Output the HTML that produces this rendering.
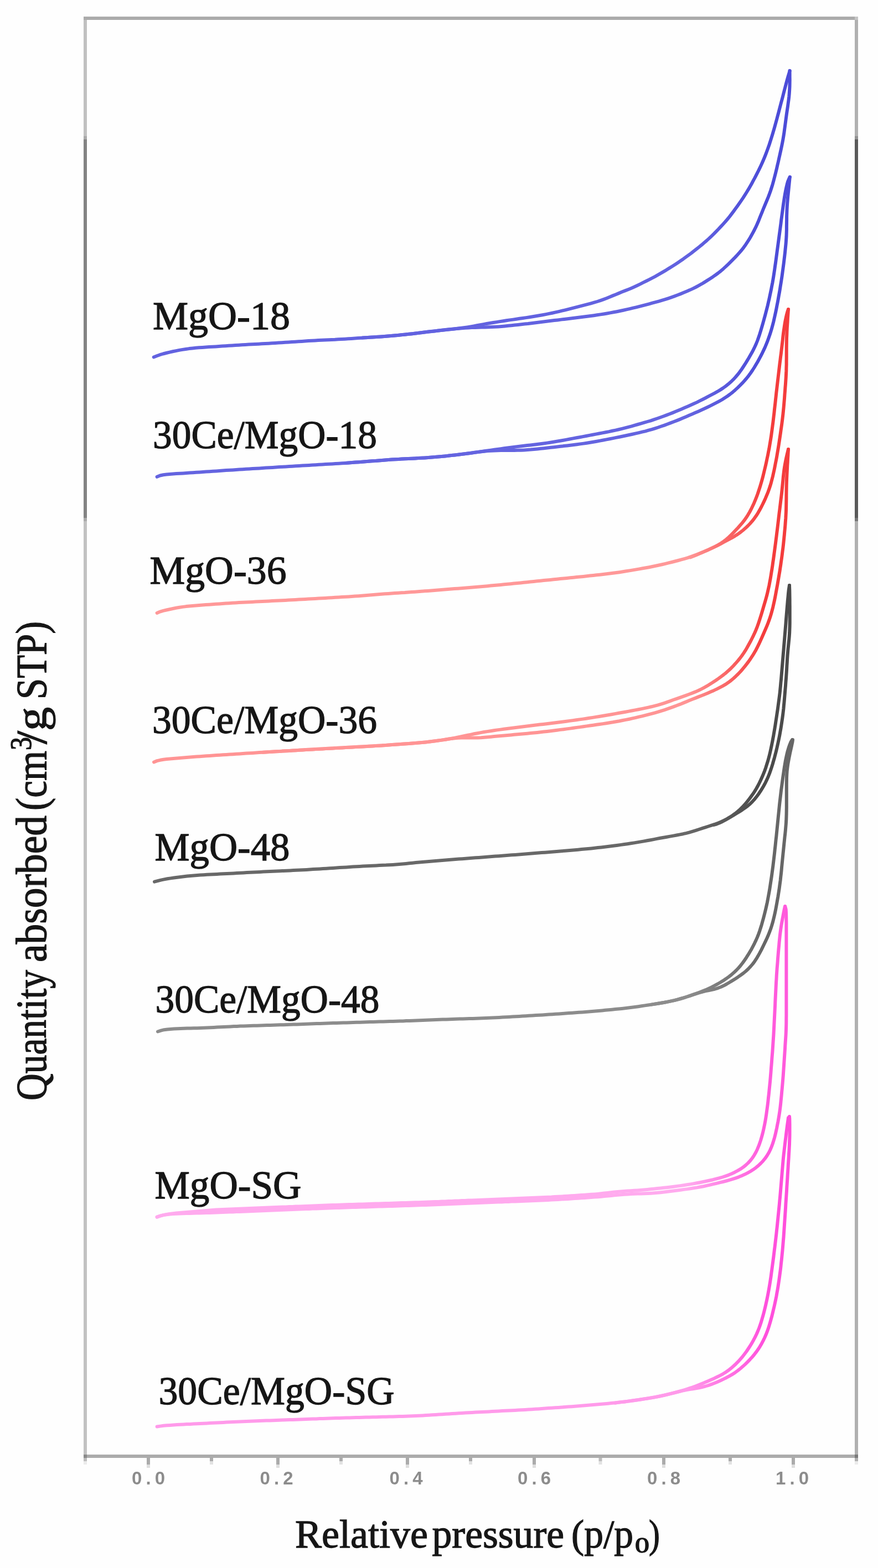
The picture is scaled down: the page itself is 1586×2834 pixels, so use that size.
<!DOCTYPE html>
<html><head><meta charset="utf-8"><title>Isotherms</title>
<style>
html,body{margin:0;padding:0;background:#fff;}
body{width:1586px;height:2834px;overflow:hidden;}
svg{display:block;}
</style></head>
<body>
<svg width="1586" height="2834" viewBox="0 0 1586 2834">
<rect width="1586" height="2834" fill="#fefefe"/>
<g id="frame">
<rect x="151" y="30" width="1393" height="6" fill="#ababab"/>
<rect x="1544" y="30" width="6" height="6" fill="#c4c4c4"/>
<rect x="151" y="36" width="6" height="210" fill="#c1c1c1"/>
<rect x="151" y="246" width="6" height="6" fill="#aaaaaa"/>
<rect x="151" y="252" width="6" height="684" fill="#838383"/>
<rect x="151" y="936" width="6" height="6" fill="#aaaaaa"/>
<rect x="151" y="942" width="6" height="1687" fill="#c2c2c2"/>
<rect x="151" y="2629" width="6" height="6" fill="#8a8a8a"/>
<rect x="151" y="2635" width="6" height="6" fill="#bdbdbd"/>
<rect x="151" y="2641" width="6" height="6" fill="#ebebeb"/>
<rect x="1544" y="36" width="6" height="210" fill="#b0b0b0"/>
<rect x="1544" y="246" width="6" height="6" fill="#929292"/>
<rect x="1544" y="252" width="6" height="684" fill="#5a5a5a"/>
<rect x="1544" y="936" width="6" height="6" fill="#777777"/>
<rect x="1544" y="942" width="6" height="1687" fill="#b0b0b0"/>
<rect x="1544" y="2629" width="6" height="6" fill="#7a7a7a"/>
<rect x="1544" y="2635" width="6" height="6" fill="#b0b0b0"/>
<rect x="1544" y="2641" width="6" height="6" fill="#ebebeb"/>
<rect x="157" y="2629" width="1387" height="6" fill="#ababab"/>
<rect x="265" y="2635" width="6" height="12" fill="#ababab"/>
<rect x="265" y="2647" width="6" height="6" fill="#dedede"/>
<rect x="499" y="2635" width="6" height="12" fill="#ababab"/>
<rect x="499" y="2647" width="6" height="6" fill="#dedede"/>
<rect x="733" y="2635" width="6" height="12" fill="#ababab"/>
<rect x="733" y="2647" width="6" height="6" fill="#dedede"/>
<rect x="962" y="2635" width="6" height="12" fill="#ababab"/>
<rect x="962" y="2647" width="6" height="6" fill="#dedede"/>
<rect x="1196" y="2635" width="6" height="12" fill="#ababab"/>
<rect x="1196" y="2647" width="6" height="6" fill="#dedede"/>
<rect x="1430" y="2635" width="6" height="12" fill="#ababab"/>
<rect x="1430" y="2647" width="6" height="6" fill="#dedede"/>
<rect x="379" y="2635" width="6" height="6" fill="#ababab"/>
<rect x="379" y="2641" width="6" height="6" fill="#e2e2e2"/>
<rect x="613" y="2635" width="6" height="6" fill="#ababab"/>
<rect x="613" y="2641" width="6" height="6" fill="#e2e2e2"/>
<rect x="847" y="2635" width="6" height="6" fill="#ababab"/>
<rect x="847" y="2641" width="6" height="6" fill="#e2e2e2"/>
<rect x="1081.5" y="2635" width="6" height="6" fill="#bdbdbd"/>
<rect x="1081.5" y="2641" width="6" height="6" fill="#e2e2e2"/>
<rect x="1316" y="2635" width="6" height="6" fill="#ababab"/>
<rect x="1316" y="2641" width="6" height="6" fill="#e2e2e2"/>
</g>
<g id="curves">
<linearGradient id="g1" gradientUnits="userSpaceOnUse" x1="1240" y1="0" x2="1380" y2="0"><stop offset="0" stop-color="#6262e0"/><stop offset="1" stop-color="#4c4cd8"/></linearGradient>
<path d="M277.7,645.5 283.3,643.3 288.9,641.2 294.6,639.5 300.4,638.0 306.2,636.6 312.1,635.3 317.9,634.1 323.8,632.9 329.7,631.9 335.6,631.0 341.6,630.1 347.5,629.4 353.5,628.8 359.4,628.3 365.4,627.9 371.4,627.5 377.4,627.1 383.4,626.8 389.4,626.4 395.4,626.0 401.4,625.6 407.3,625.2 413.3,624.8 419.3,624.4 425.3,624.1 431.3,623.7 437.3,623.3 443.3,623.0 449.3,622.6 455.3,622.3 461.2,622.0 467.2,621.7 473.2,621.3 479.2,621.0 485.2,620.7 491.2,620.3 497.2,619.9 503.2,619.6 509.2,619.2 515.1,618.8 521.1,618.5 527.1,618.1 533.1,617.7 539.1,617.3 545.1,616.9 551.1,616.5 557.1,616.1 563.0,615.8 569.0,615.4 575.0,615.1 581.0,614.8 587.0,614.5 593.0,614.2 599.0,613.9 605.0,613.7 611.0,613.3 617.0,613.0 623.0,612.7 629.0,612.3 634.9,611.9 640.9,611.5 646.9,611.1 652.9,610.7 658.9,610.3 664.9,610.0 670.9,609.6 676.9,609.2 682.8,608.8 688.8,608.4 694.8,608.0 700.8,607.5 706.8,607.0 712.7,606.4 718.7,605.9 724.7,605.3 730.7,604.7 736.6,604.1 742.6,603.4 748.5,602.7 754.5,602.0 760.5,601.3 766.4,600.6 772.4,599.8 778.3,599.1 784.3,598.4 790.2,597.7 796.2,597.0 802.2,596.4 808.1,595.7 814.1,595.1 820.1,594.4 826.0,593.8 832.0,593.1 837.9,592.3 843.8,591.4 849.8,590.4 855.7,589.4 861.5,588.3 867.4,587.1 873.3,586.1 879.2,585.0 885.2,584.0 891.1,583.0 897.0,582.1 902.9,581.1 908.9,580.2 914.8,579.3 920.7,578.4 926.7,577.6 932.6,576.7 938.5,575.8 944.5,575.0 950.4,574.1 956.3,573.2 962.3,572.2 968.2,571.2 974.1,570.2 980.0,569.2 985.9,568.1 991.8,566.9 997.6,565.7 1003.5,564.4 1009.4,563.1 1015.2,561.7 1021.0,560.3 1026.8,558.9 1032.7,557.4 1038.5,555.9 1044.3,554.4 1050.1,552.9 1055.9,551.4 1061.7,549.9 1067.5,548.3 1073.3,546.7 1079.0,545.0 1084.7,543.1 1090.3,541.1 1095.9,539.0 1101.4,536.7 1107.0,534.4 1112.5,532.2 1118.1,529.9 1123.6,527.6 1129.2,525.4 1134.8,523.2 1140.3,520.9 1145.8,518.5 1151.2,516.0 1156.6,513.4 1161.9,510.7 1167.3,508.0 1172.6,505.3 1177.9,502.6 1183.2,499.8 1188.4,496.9 1193.6,493.9 1198.8,490.8 1203.9,487.8 1209.0,484.6 1214.1,481.5 1219.2,478.3 1224.2,475.0 1229.2,471.6 1234.1,468.2 1238.9,464.7 1243.8,461.1 1248.6,457.6 1253.3,453.9 1258.1,450.2 1262.7,446.5 1267.4,442.7 1271.9,438.8 1276.5,434.9 1280.9,430.9 1285.2,426.8 1289.5,422.6 1293.7,418.3 1297.9,414.0 1302.0,409.6 1306.1,405.2 1310.1,400.8 1314.0,396.2 1317.8,391.6 1321.4,386.9 1325.0,382.1 1328.5,377.3 1332.0,372.4 1335.5,367.5 1338.9,362.6 1342.3,357.6 1345.5,352.6 1348.7,347.5 1351.8,342.4 1354.8,337.2 1357.8,332.0 1360.6,326.7 1363.5,321.4 1366.2,316.1 1369.0,310.7 1371.6,305.4 1374.2,300.0 1376.7,294.5 1379.1,289.0 1381.4,283.5 1383.6,277.9 1385.7,272.3 1387.7,266.7 1389.7,261.0 1391.5,255.3 1393.3,249.6 1395.1,243.8 1396.8,238.1 1398.5,232.3 1400.1,226.6 1401.7,220.8 1403.3,215.0 1404.8,209.2 1406.4,203.4 1407.9,197.6 1409.4,191.8 1410.9,186.0 1412.5,180.2 1414.0,174.4 1415.5,168.6 1417.0,162.8 1418.5,157.0 1420.0,151.2 1421.6,145.4 1423.2,139.6 1424.9,133.8 1426.7,128.1" fill="none" stroke="url(#g1)" stroke-width="6" stroke-linejoin="round" stroke-linecap="round"/>
<path d="M655.0,610.5 661.0,610.2 667.0,609.8 673.0,609.5 679.0,609.1 684.9,608.7 690.9,608.3 696.9,607.8 702.9,607.3 708.9,606.8 714.8,606.2 720.8,605.7 726.8,605.1 732.8,604.5 738.7,603.8 744.7,603.2 750.6,602.5 756.6,601.8 762.6,601.0 768.5,600.3 774.5,599.6 780.4,598.9 786.4,598.2 792.3,597.5 798.3,596.8 804.3,596.1 810.2,595.5 816.2,594.9 822.2,594.3 828.1,593.7 834.1,593.2 840.1,592.8 846.1,592.4 852.1,592.1 858.1,591.9 864.0,591.8 870.0,591.6 876.0,591.5 882.0,591.3 888.0,591.1 894.0,590.8 900.0,590.4 906.0,589.9 911.9,589.4 917.9,588.8 923.9,588.2 929.9,587.6 935.8,586.9 941.8,586.3 947.7,585.6 953.7,585.0 959.7,584.2 965.6,583.5 971.6,582.8 977.5,582.0 983.5,581.3 989.4,580.6 995.4,579.8 1001.3,579.1 1007.3,578.4 1013.3,577.6 1019.2,576.9 1025.2,576.2 1031.1,575.5 1037.1,574.8 1043.0,574.1 1049.0,573.3 1054.9,572.6 1060.9,571.8 1066.8,571.0 1072.8,570.2 1078.7,569.3 1084.7,568.4 1090.6,567.5 1096.5,566.5 1102.4,565.4 1108.3,564.3 1114.2,563.2 1120.0,562.0 1125.9,560.7 1131.8,559.4 1137.6,558.1 1143.5,556.7 1149.3,555.3 1155.1,553.8 1160.9,552.3 1166.7,550.8 1172.5,549.3 1178.3,547.7 1184.1,546.2 1189.9,544.6 1195.6,542.9 1201.4,541.2 1207.1,539.3 1212.8,537.4 1218.4,535.4 1224.0,533.3 1229.6,531.1 1235.1,528.8 1240.7,526.5 1246.2,524.1 1251.6,521.6 1256.9,519.0 1262.2,516.1 1267.4,513.2 1272.5,510.1 1277.6,506.9 1282.6,503.7 1287.6,500.4 1292.5,497.0 1297.3,493.5 1302.0,489.8 1306.5,485.9 1310.9,481.9 1315.2,477.8 1319.5,473.6 1323.7,469.4 1327.9,465.1 1332.0,460.7 1336.0,456.3 1339.9,451.8 1343.5,447.1 1347.0,442.2 1350.3,437.2 1353.5,432.2 1356.5,427.0 1359.4,421.8 1362.2,416.5 1364.9,411.2 1367.4,405.8 1369.8,400.3 1372.0,394.7 1374.2,389.2 1376.5,383.6 1378.7,378.0 1381.0,372.5 1383.3,367.0 1385.6,361.5 1387.9,355.9 1390.0,350.3 1392.0,344.7 1393.8,339.0 1395.6,333.3 1397.2,327.5 1398.7,321.7 1400.2,315.9 1401.7,310.1 1403.1,304.2 1404.4,298.4 1405.8,292.6 1407.1,286.7 1408.4,280.8 1409.7,275.0 1411.0,269.1 1412.2,263.3 1413.4,257.4 1414.5,251.5 1415.5,245.6 1416.4,239.7 1417.2,233.7 1418.0,227.8 1418.8,221.8 1419.6,215.9 1420.4,209.9 1421.2,204.0 1422.1,198.1 1423.0,192.1 1423.8,186.2 1424.6,180.3 1425.3,174.3 1425.8,168.4 1426.2,162.4 1426.5,156.5 1426.6,150.5 1426.7,144.6 1426.6,138.7 1426.6,132.9 1426.5,127.7" fill="none" stroke="url(#g1)" stroke-width="6" stroke-linejoin="round" stroke-linecap="round"/>
<linearGradient id="g2" gradientUnits="userSpaceOnUse" x1="1240" y1="0" x2="1380" y2="0"><stop offset="0" stop-color="#6464e0"/><stop offset="1" stop-color="#4c4cd8"/></linearGradient>
<path d="M283.6,861.8 289.1,859.5 294.9,858.2 300.8,857.5 306.7,856.9 312.7,856.5 318.6,856.1 324.6,855.7 330.6,855.4 336.6,855.0 342.6,854.6 348.6,854.2 354.5,853.8 360.5,853.4 366.5,853.0 372.5,852.6 378.5,852.2 384.5,851.8 390.5,851.4 396.4,851.0 402.4,850.5 408.4,850.1 414.4,849.7 420.4,849.4 426.4,849.0 432.4,848.6 438.4,848.2 444.3,847.8 450.3,847.5 456.3,847.1 462.3,846.7 468.3,846.4 474.3,846.0 480.3,845.6 486.3,845.2 492.2,844.9 498.2,844.5 504.2,844.1 510.2,843.8 516.2,843.4 522.2,843.0 528.2,842.7 534.2,842.3 540.2,842.0 546.2,841.6 552.1,841.3 558.1,840.9 564.1,840.5 570.1,840.2 576.1,839.8 582.1,839.5 588.1,839.1 594.1,838.8 600.1,838.4 606.0,838.1 612.0,837.7 618.0,837.3 624.0,836.9 630.0,836.5 636.0,836.0 642.0,835.6 647.9,835.2 653.9,834.7 659.9,834.2 665.9,833.8 671.9,833.3 677.9,832.9 683.8,832.4 689.8,831.9 695.8,831.5 701.8,831.1 707.8,830.6 713.8,830.3 719.7,829.9 725.7,829.6 731.7,829.3 737.7,829.0 743.7,828.7 749.7,828.4 755.7,828.1 761.7,827.7 767.7,827.4 773.7,827.0 779.6,826.6 785.6,826.1 791.6,825.6 797.6,825.0 803.5,824.4 809.5,823.8 815.5,823.1 821.4,822.4 827.4,821.7 833.3,821.0 839.3,820.3 845.2,819.5 851.2,818.7 857.1,817.8 863.1,817.0 869.0,816.2 875.0,815.3 880.9,814.5 886.8,813.6 892.8,812.7 898.7,811.9 904.7,811.1 910.6,810.2 916.5,809.4 922.5,808.6 928.4,807.9 934.4,807.1 940.3,806.4 946.3,805.7 952.3,805.1 958.2,804.4 964.2,803.7 970.2,803.0 976.1,802.3 982.0,801.5 988.0,800.6 993.9,799.7 999.8,798.8 1005.7,797.8 1011.7,796.7 1017.6,795.7 1023.5,794.6 1029.4,793.5 1035.3,792.4 1041.2,791.3 1047.1,790.2 1053.0,789.1 1058.9,788.0 1064.7,786.9 1070.6,785.8 1076.5,784.6 1082.4,783.5 1088.3,782.4 1094.2,781.2 1100.1,780.1 1106.0,778.8 1111.8,777.6 1117.7,776.3 1123.5,774.9 1129.3,773.4 1135.1,771.8 1140.9,770.3 1146.7,768.6 1152.4,767.0 1158.2,765.4 1164.0,763.7 1169.7,762.0 1175.5,760.3 1181.2,758.4 1186.8,756.5 1192.5,754.5 1198.1,752.5 1203.8,750.4 1209.4,748.3 1214.9,746.1 1220.5,743.8 1226.0,741.5 1231.5,739.2 1237.0,736.8 1242.5,734.5 1248.0,732.1 1253.5,729.6 1258.9,727.1 1264.2,724.4 1269.6,721.7 1274.9,719.0 1280.2,716.2 1285.5,713.4 1290.8,710.6 1296.0,707.7 1301.1,704.6 1306.1,701.4 1311.0,697.9 1315.6,694.2 1320.1,690.3 1324.4,686.2 1328.5,681.8 1332.3,677.3 1336.0,672.6 1339.5,667.7 1342.8,662.8 1346.1,657.7 1349.2,652.6 1352.3,647.5 1355.3,642.3 1358.3,637.1 1361.0,631.8 1363.6,626.5 1366.1,621.0 1368.3,615.5 1370.3,609.8 1372.2,604.2 1374.0,598.4 1375.7,592.7 1377.4,586.9 1379.0,581.2 1380.6,575.4 1382.2,569.6 1383.7,563.8 1385.2,558.0 1386.7,552.2 1388.0,546.3 1389.4,540.5 1390.6,534.6 1391.9,528.7 1393.1,522.9 1394.2,517.0 1395.4,511.1 1396.4,505.2 1397.4,499.3 1398.3,493.3 1399.2,487.4 1400.0,481.5 1400.9,475.5 1401.7,469.6 1402.5,463.6 1403.3,457.7 1404.1,451.7 1404.9,445.8 1405.7,439.9 1406.5,433.9 1407.3,428.0 1408.1,422.0 1408.9,416.1 1409.7,410.1 1410.5,404.2 1411.2,398.2 1412.0,392.3 1412.8,386.3 1413.6,380.4 1414.4,374.4 1415.2,368.5 1416.1,362.6 1417.0,356.6 1418.0,350.8 1419.1,344.9 1420.3,339.2 1421.6,333.6 1423.1,328.1 1425.2,323.2 1426.8,320.0" fill="none" stroke="url(#g2)" stroke-width="6" stroke-linejoin="round" stroke-linecap="round"/>
<path d="M624.0,837.0 630.0,836.5 636.0,836.1 641.9,835.6 647.9,835.2 653.9,834.7 659.9,834.2 665.9,833.8 671.9,833.3 677.8,832.9 683.8,832.4 689.8,831.9 695.8,831.5 701.8,831.1 707.8,830.6 713.7,830.3 719.7,829.9 725.7,829.6 731.7,829.3 737.7,829.0 743.7,828.7 749.7,828.4 755.7,828.1 761.7,827.7 767.7,827.4 773.7,827.0 779.6,826.6 785.6,826.1 791.6,825.6 797.6,825.0 803.5,824.4 809.5,823.8 815.5,823.1 821.4,822.4 827.4,821.7 833.3,821.0 839.3,820.3 845.2,819.5 851.2,818.7 857.1,817.9 863.1,817.1 869.0,816.3 875.0,815.7 880.9,815.1 886.9,814.7 892.9,814.4 898.9,814.2 904.9,814.1 910.8,814.0 916.8,814.0 922.8,814.0 928.8,813.9 934.8,813.8 940.8,813.7 946.8,813.4 952.8,813.0 958.8,812.6 964.7,812.0 970.7,811.4 976.7,810.8 982.6,810.2 988.6,809.5 994.6,808.8 1000.5,808.2 1006.5,807.5 1012.4,806.8 1018.4,806.1 1024.4,805.4 1030.3,804.7 1036.3,804.0 1042.2,803.2 1048.2,802.4 1054.1,801.6 1060.0,800.7 1066.0,799.7 1071.9,798.7 1077.8,797.7 1083.7,796.6 1089.6,795.5 1095.5,794.4 1101.4,793.2 1107.3,792.1 1113.1,790.9 1119.0,789.7 1124.9,788.5 1130.8,787.3 1136.6,786.0 1142.5,784.7 1148.4,783.4 1154.2,782.1 1160.0,780.7 1165.9,779.3 1171.6,777.7 1177.4,776.1 1183.1,774.3 1188.8,772.5 1194.5,770.5 1200.2,768.6 1205.8,766.5 1211.4,764.4 1217.0,762.3 1222.6,760.1 1228.2,757.9 1233.7,755.6 1239.2,753.2 1244.7,750.8 1250.2,748.5 1255.7,746.1 1261.2,743.7 1266.6,741.3 1272.0,738.8 1277.4,736.2 1282.8,733.6 1288.2,730.9 1293.5,728.2 1298.8,725.4 1304.0,722.5 1309.0,719.3 1314.0,716.0 1318.8,712.5 1323.5,708.8 1328.0,704.9 1332.4,700.9 1336.7,696.7 1340.9,692.4 1344.9,688.0 1348.8,683.5 1352.5,678.8 1356.0,674.0 1359.4,669.0 1362.6,664.0 1365.7,658.8 1368.7,653.7 1371.6,648.4 1374.4,643.1 1377.1,637.8 1379.7,632.4 1382.2,626.9 1384.5,621.4 1386.7,615.8 1388.7,610.2 1390.7,604.6 1392.5,598.8 1394.2,593.1 1395.8,587.3 1397.3,581.5 1398.6,575.7 1399.9,569.8 1401.2,564.0 1402.4,558.1 1403.5,552.2 1404.7,546.3 1405.8,540.4 1406.8,534.5 1407.9,528.6 1408.9,522.7 1409.8,516.8 1410.8,510.8 1411.7,504.9 1412.6,499.0 1413.4,493.0 1414.2,487.1 1415.0,481.1 1415.8,475.2 1416.5,469.2 1417.2,463.3 1417.9,457.3 1418.5,451.4 1419.1,445.4 1419.7,439.4 1420.1,433.5 1420.5,427.5 1420.7,421.5 1420.9,415.5 1420.9,409.5 1421.0,403.5 1421.1,397.5 1421.1,391.5 1421.3,385.5 1421.5,379.5 1421.8,373.5 1422.2,367.6 1422.7,361.6 1423.2,355.6 1423.8,349.6 1424.4,343.7 1425.0,337.7 1425.6,331.8 1426.2,325.8 1426.8,320.0" fill="none" stroke="url(#g2)" stroke-width="6" stroke-linejoin="round" stroke-linecap="round"/>
<linearGradient id="g3" gradientUnits="userSpaceOnUse" x1="1240" y1="0" x2="1380" y2="0"><stop offset="0" stop-color="#ff9898"/><stop offset="1" stop-color="#f43c3c"/></linearGradient>
<path d="M283.6,1107.9 289.1,1105.6 294.8,1103.9 300.7,1102.5 306.5,1101.2 312.3,1100.0 318.2,1098.8 324.1,1097.8 330.0,1096.9 336.0,1096.1 341.9,1095.5 347.9,1094.9 353.9,1094.4 359.9,1093.9 365.8,1093.5 371.8,1093.1 377.8,1092.7 383.8,1092.2 389.8,1091.8 395.8,1091.4 401.7,1091.0 407.7,1090.6 413.7,1090.2 419.7,1089.8 425.7,1089.5 431.7,1089.1 437.7,1088.8 443.7,1088.5 449.7,1088.2 455.7,1087.9 461.6,1087.6 467.6,1087.3 473.6,1087.0 479.6,1086.7 485.6,1086.4 491.6,1086.1 497.6,1085.8 503.6,1085.5 509.6,1085.2 515.6,1084.9 521.6,1084.6 527.6,1084.2 533.6,1083.9 539.5,1083.6 545.5,1083.3 551.5,1082.9 557.5,1082.6 563.5,1082.3 569.5,1081.9 575.5,1081.6 581.5,1081.2 587.5,1080.9 593.5,1080.5 599.4,1080.2 605.4,1079.8 611.4,1079.5 617.4,1079.1 623.4,1078.8 629.4,1078.4 635.4,1078.0 641.4,1077.6 647.4,1077.2 653.3,1076.7 659.3,1076.2 665.3,1075.7 671.3,1075.3 677.3,1074.8 683.2,1074.3 689.2,1073.8 695.2,1073.3 701.2,1072.9 707.2,1072.5 713.1,1072.1 719.1,1071.7 725.1,1071.3 731.1,1071.0 737.1,1070.5 743.1,1070.1 749.1,1069.7 755.0,1069.2 761.0,1068.8 767.0,1068.3 773.0,1067.9 779.0,1067.4 785.0,1067.0 790.9,1066.5 796.9,1066.0 802.9,1065.6 808.9,1065.1 814.9,1064.6 820.9,1064.1 826.8,1063.7 832.8,1063.2 838.8,1062.7 844.8,1062.2 850.8,1061.7 856.7,1061.2 862.7,1060.7 868.7,1060.2 874.7,1059.7 880.6,1059.2 886.6,1058.6 892.6,1058.1 898.6,1057.5 904.5,1056.9 910.5,1056.3 916.5,1055.7 922.5,1055.2 928.4,1054.6 934.4,1054.0 940.4,1053.4 946.3,1052.8 952.3,1052.2 958.3,1051.6 964.2,1051.0 970.2,1050.3 976.2,1049.7 982.1,1049.1 988.1,1048.5 994.1,1047.9 1000.1,1047.3 1006.0,1046.7 1012.0,1046.1 1018.0,1045.5 1023.9,1044.9 1029.9,1044.3 1035.9,1043.7 1041.8,1043.1 1047.8,1042.5 1053.8,1041.9 1059.7,1041.3 1065.7,1040.6 1071.7,1040.0 1077.6,1039.3 1083.6,1038.7 1089.6,1038.0 1095.5,1037.3 1101.5,1036.6 1107.4,1035.8 1113.4,1035.0 1119.3,1034.2 1125.2,1033.3 1131.2,1032.3 1137.1,1031.4 1143.0,1030.4 1148.9,1029.4 1154.8,1028.4 1160.8,1027.3 1166.7,1026.3 1172.5,1025.2 1178.4,1024.0 1184.3,1022.8 1190.2,1021.5 1196.0,1020.2 1201.9,1018.8 1207.7,1017.4 1213.5,1016.0 1219.3,1014.5 1225.1,1013.0 1230.9,1011.4 1236.7,1009.8 1242.4,1008.1 1248.1,1006.2 1253.7,1004.2 1259.3,1002.1 1264.9,999.9 1270.4,997.6 1275.9,995.2 1281.4,992.8 1286.8,990.3 1292.2,987.6 1297.4,984.8 1302.5,981.7 1307.3,978.4 1312.0,974.8 1316.4,970.9 1320.6,966.8 1324.8,962.6 1328.9,958.3 1333.0,954.0 1336.9,949.6 1340.8,945.1 1344.5,940.4 1347.9,935.6 1351.1,930.6 1354.1,925.5 1356.9,920.2 1359.5,914.8 1362.0,909.4 1364.3,903.9 1366.5,898.3 1368.6,892.7 1370.5,887.0 1372.4,881.3 1374.1,875.6 1375.8,869.8 1377.4,864.1 1378.9,858.3 1380.3,852.4 1381.7,846.6 1383.1,840.8 1384.4,834.9 1385.6,829.0 1386.9,823.2 1388.0,817.3 1389.2,811.4 1390.2,805.5 1391.2,799.6 1392.2,793.6 1393.1,787.7 1393.9,781.8 1394.7,775.8 1395.5,769.9 1396.3,763.9 1397.0,758.0 1397.7,752.0 1398.4,746.1 1399.0,740.1 1399.7,734.1 1400.4,728.2 1401.0,722.2 1401.7,716.2 1402.3,710.3 1403.0,704.3 1403.7,698.4 1404.4,692.4 1405.1,686.4 1405.8,680.5 1406.5,674.5 1407.2,668.6 1407.9,662.6 1408.6,656.7 1409.4,650.7 1410.1,644.7 1410.9,638.8 1411.6,632.8 1412.3,626.9 1413.0,620.9 1413.7,615.0 1414.3,609.0 1415.0,603.1 1415.8,597.1 1416.7,591.2 1417.6,585.3 1418.6,579.5 1419.8,573.8 1421.1,568.2 1422.6,562.8 1424.0,559.0" fill="none" stroke="url(#g3)" stroke-width="6" stroke-linejoin="round" stroke-linecap="round"/>
<path d="M1247.0,1007.5 1252.6,1005.3 1258.1,1002.9 1263.6,1000.5 1269.1,998.2 1274.6,995.8 1280.1,993.4 1285.5,990.9 1290.9,988.4 1296.3,985.7 1301.6,983.0 1306.8,980.2 1312.0,977.4 1317.2,974.6 1322.4,971.8 1327.5,968.8 1332.5,965.6 1337.3,962.2 1342.0,958.5 1346.5,954.6 1350.8,950.5 1354.9,946.2 1358.8,941.8 1362.5,937.1 1365.9,932.3 1369.1,927.3 1372.1,922.1 1374.9,916.8 1377.6,911.5 1380.2,906.1 1382.7,900.7 1385.0,895.2 1387.3,889.6 1389.3,884.0 1391.2,878.3 1392.9,872.6 1394.4,866.8 1395.9,861.0 1397.2,855.2 1398.5,849.3 1399.7,843.4 1400.8,837.5 1402.0,831.7 1403.1,825.8 1404.1,819.8 1405.1,813.9 1406.1,808.0 1407.0,802.1 1407.9,796.2 1408.8,790.2 1409.7,784.3 1410.5,778.4 1411.4,772.4 1412.2,766.5 1413.0,760.5 1413.7,754.6 1414.4,748.6 1415.0,742.6 1415.6,736.7 1416.1,730.7 1416.6,724.7 1417.1,718.7 1417.5,712.8 1418.0,706.8 1418.4,700.8 1418.9,694.8 1419.3,688.8 1419.7,682.8 1420.0,676.8 1420.3,670.9 1420.4,664.9 1420.6,658.9 1420.6,652.9 1420.7,646.9 1420.7,640.9 1420.7,634.9 1420.7,628.9 1420.8,622.9 1420.9,616.9 1421.0,610.9 1421.3,604.9 1421.5,598.9 1421.8,592.9 1422.2,587.0 1422.6,581.0 1422.9,575.1 1423.3,569.3 1423.7,563.6 1424.0,559.0" fill="none" stroke="url(#g3)" stroke-width="6" stroke-linejoin="round" stroke-linecap="round"/>
<linearGradient id="g4" gradientUnits="userSpaceOnUse" x1="1240" y1="0" x2="1380" y2="0"><stop offset="0" stop-color="#ff9494"/><stop offset="1" stop-color="#f43c3c"/></linearGradient>
<path d="M278.0,1377.4 283.6,1375.1 289.3,1373.8 295.2,1372.8 301.1,1372.1 307.0,1371.4 313.0,1370.9 319.0,1370.4 324.9,1369.9 330.9,1369.4 336.9,1369.0 342.9,1368.5 348.9,1368.1 354.9,1367.6 360.8,1367.2 366.8,1366.8 372.8,1366.3 378.8,1365.9 384.8,1365.5 390.8,1365.1 396.8,1364.7 402.7,1364.3 408.7,1363.9 414.7,1363.6 420.7,1363.2 426.7,1362.8 432.7,1362.4 438.7,1362.0 444.7,1361.6 450.6,1361.3 456.6,1360.9 462.6,1360.5 468.6,1360.1 474.6,1359.8 480.6,1359.4 486.6,1359.0 492.6,1358.7 498.6,1358.3 504.5,1358.0 510.5,1357.6 516.5,1357.2 522.5,1356.9 528.5,1356.5 534.5,1356.2 540.5,1355.8 546.5,1355.5 552.5,1355.1 558.4,1354.8 564.4,1354.4 570.4,1354.1 576.4,1353.7 582.4,1353.4 588.4,1353.1 594.4,1352.7 600.4,1352.4 606.4,1352.1 612.4,1351.8 618.4,1351.4 624.3,1351.1 630.3,1350.8 636.3,1350.5 642.3,1350.1 648.3,1349.8 654.3,1349.5 660.3,1349.2 666.3,1348.8 672.3,1348.5 678.3,1348.1 684.3,1347.7 690.2,1347.4 696.2,1346.9 702.2,1346.5 708.2,1346.1 714.2,1345.7 720.2,1345.2 726.1,1344.8 732.1,1344.4 738.1,1343.9 744.1,1343.5 750.1,1343.0 756.1,1342.6 762.0,1342.1 768.0,1341.5 774.0,1340.8 779.9,1340.1 785.9,1339.3 791.8,1338.5 797.7,1337.6 803.7,1336.7 809.6,1335.7 815.5,1334.7 821.4,1333.6 827.3,1332.4 833.2,1331.2 839.0,1330.0 844.9,1328.8 850.8,1327.6 856.6,1326.3 862.5,1325.2 868.4,1324.1 874.3,1323.0 880.2,1322.1 886.2,1321.2 892.1,1320.3 898.0,1319.4 904.0,1318.6 909.9,1317.8 915.9,1317.0 921.8,1316.2 927.8,1315.5 933.7,1314.7 939.7,1314.0 945.6,1313.2 951.6,1312.5 957.5,1311.7 963.5,1311.0 969.5,1310.3 975.4,1309.6 981.4,1308.9 987.3,1308.2 993.3,1307.5 999.2,1306.7 1005.2,1306.0 1011.1,1305.2 1017.1,1304.5 1023.0,1303.7 1029.0,1302.9 1034.9,1302.1 1040.9,1301.2 1046.8,1300.4 1052.8,1299.6 1058.7,1298.7 1064.6,1297.8 1070.6,1296.9 1076.5,1295.9 1082.4,1295.0 1088.3,1294.0 1094.2,1293.0 1100.2,1292.0 1106.1,1291.0 1112.0,1289.9 1117.9,1288.8 1123.8,1287.7 1129.7,1286.7 1135.6,1285.6 1141.5,1284.5 1147.4,1283.4 1153.3,1282.3 1159.2,1281.1 1165.0,1279.9 1170.9,1278.6 1176.7,1277.3 1182.5,1275.8 1188.3,1274.3 1194.1,1272.6 1199.8,1270.8 1205.4,1268.9 1211.1,1266.9 1216.7,1264.8 1222.4,1262.8 1228.0,1260.8 1233.7,1258.8 1239.3,1256.8 1245.0,1254.7 1250.6,1252.6 1256.1,1250.4 1261.6,1248.0 1267.0,1245.4 1272.2,1242.6 1277.4,1239.7 1282.5,1236.5 1287.6,1233.3 1292.6,1230.0 1297.5,1226.6 1302.3,1223.1 1307.1,1219.5 1311.7,1215.8 1316.2,1211.8 1320.6,1207.7 1324.7,1203.5 1328.7,1199.1 1332.6,1194.6 1336.4,1190.0 1340.0,1185.3 1343.4,1180.4 1346.6,1175.4 1349.6,1170.3 1352.5,1165.0 1355.4,1159.8 1358.1,1154.5 1360.8,1149.1 1363.3,1143.7 1365.7,1138.2 1367.9,1132.6 1369.9,1127.0 1371.8,1121.3 1373.6,1115.6 1375.4,1109.9 1377.1,1104.2 1378.8,1098.4 1380.5,1092.7 1382.2,1086.9 1383.8,1081.2 1385.4,1075.4 1386.8,1069.5 1388.1,1063.7 1389.4,1057.8 1390.5,1051.9 1391.6,1046.0 1392.6,1040.1 1393.5,1034.2 1394.5,1028.3 1395.4,1022.4 1396.2,1016.4 1397.1,1010.5 1397.9,1004.5 1398.7,998.6 1399.5,992.6 1400.3,986.7 1401.1,980.7 1401.8,974.8 1402.6,968.8 1403.3,962.9 1404.1,956.9 1404.8,951.0 1405.5,945.0 1406.2,939.1 1406.9,933.1 1407.6,927.1 1408.4,921.2 1409.1,915.2 1409.8,909.3 1410.5,903.3 1411.3,897.4 1412.0,891.4 1412.6,885.5 1413.2,879.5 1413.8,873.5 1414.4,867.5 1414.9,861.6 1415.6,855.6 1416.3,849.7 1417.2,843.8 1418.2,838.0 1419.3,832.2 1420.5,826.5 1421.8,820.9 1423.1,815.6 1424.0,812.0" fill="none" stroke="url(#g4)" stroke-width="6" stroke-linejoin="round" stroke-linecap="round"/>
<path d="M475.0,1359.7 481.0,1359.3 487.0,1359.0 493.0,1358.6 499.0,1358.3 504.9,1357.9 510.9,1357.6 516.9,1357.2 522.9,1356.9 528.9,1356.5 534.9,1356.2 540.9,1355.8 546.9,1355.5 552.9,1355.1 558.9,1354.8 564.8,1354.4 570.8,1354.1 576.8,1353.7 582.8,1353.4 588.8,1353.0 594.8,1352.7 600.8,1352.4 606.8,1352.1 612.8,1351.7 618.8,1351.4 624.8,1351.1 630.7,1350.8 636.7,1350.4 642.7,1350.1 648.7,1349.8 654.7,1349.5 660.7,1349.1 666.7,1348.8 672.7,1348.5 678.7,1348.1 684.7,1347.7 690.6,1347.3 696.6,1346.9 702.6,1346.5 708.6,1346.1 714.6,1345.6 720.6,1345.2 726.6,1344.8 732.5,1344.3 738.5,1343.9 744.5,1343.5 750.5,1343.0 756.5,1342.5 762.4,1342.0 768.4,1341.4 774.4,1340.8 780.3,1340.1 786.3,1339.3 792.2,1338.4 798.1,1337.6 804.1,1336.7 810.0,1335.8 815.9,1334.9 821.8,1334.2 827.6,1333.7 833.5,1333.4 839.3,1333.4 845.2,1333.5 851.0,1333.6 856.9,1333.6 862.8,1333.5 868.8,1333.2 874.7,1332.7 880.7,1332.2 886.7,1331.7 892.7,1331.1 898.6,1330.6 904.6,1330.0 910.6,1329.5 916.6,1328.9 922.5,1328.4 928.5,1327.8 934.5,1327.3 940.5,1326.7 946.4,1326.2 952.4,1325.7 958.4,1325.1 964.4,1324.5 970.3,1323.9 976.3,1323.3 982.3,1322.6 988.2,1321.9 994.2,1321.2 1000.1,1320.5 1006.1,1319.7 1012.0,1318.9 1018.0,1318.2 1023.9,1317.4 1029.9,1316.6 1035.8,1315.7 1041.7,1314.9 1047.7,1314.1 1053.6,1313.2 1059.6,1312.4 1065.5,1311.5 1071.4,1310.7 1077.4,1309.8 1083.3,1309.0 1089.3,1308.1 1095.2,1307.2 1101.1,1306.2 1107.0,1305.3 1112.9,1304.2 1118.8,1303.2 1124.7,1302.0 1130.6,1300.9 1136.5,1299.7 1142.4,1298.4 1148.2,1297.1 1154.1,1295.7 1159.9,1294.3 1165.7,1292.9 1171.5,1291.4 1177.3,1289.9 1183.1,1288.3 1188.9,1286.7 1194.6,1284.9 1200.3,1283.1 1206.0,1281.2 1211.7,1279.2 1217.3,1277.1 1222.9,1275.0 1228.5,1272.9 1234.1,1270.6 1239.6,1268.4 1245.1,1266.1 1250.7,1263.8 1256.3,1261.6 1261.8,1259.4 1267.4,1257.2 1273.0,1255.0 1278.5,1252.7 1284.0,1250.3 1289.5,1247.9 1294.9,1245.4 1300.2,1242.7 1305.5,1239.9 1310.6,1236.9 1315.5,1233.6 1320.3,1230.0 1324.8,1226.2 1329.2,1222.2 1333.5,1218.0 1337.6,1213.7 1341.5,1209.2 1345.3,1204.6 1349.0,1199.9 1352.6,1195.1 1356.0,1190.2 1359.3,1185.2 1362.4,1180.1 1365.4,1174.9 1368.1,1169.6 1370.8,1164.2 1373.3,1158.8 1375.8,1153.3 1378.2,1147.8 1380.6,1142.3 1383.0,1136.8 1385.3,1131.3 1387.5,1125.8 1389.6,1120.1 1391.5,1114.5 1393.2,1108.8 1394.8,1103.0 1396.3,1097.2 1397.6,1091.4 1398.9,1085.5 1400.1,1079.6 1401.2,1073.7 1402.3,1067.8 1403.4,1061.9 1404.5,1056.0 1405.5,1050.1 1406.5,1044.2 1407.5,1038.3 1408.5,1032.4 1409.4,1026.4 1410.3,1020.5 1411.1,1014.6 1412.0,1008.6 1412.8,1002.7 1413.5,996.7 1414.3,990.8 1415.0,984.8 1415.6,978.9 1416.2,972.9 1416.8,966.9 1417.3,960.9 1417.9,955.0 1418.4,949.0 1418.8,943.0 1419.3,937.0 1419.6,931.0 1419.9,925.1 1420.1,919.1 1420.2,913.1 1420.3,907.1 1420.4,901.1 1420.4,895.1 1420.5,889.1 1420.6,883.1 1420.7,877.1 1420.9,871.1 1421.1,865.1 1421.4,859.1 1421.7,853.1 1422.0,847.1 1422.3,841.1 1422.7,835.2 1423.0,829.2 1423.4,823.3 1423.7,817.4 1424.0,812.0" fill="none" stroke="url(#g4)" stroke-width="6" stroke-linejoin="round" stroke-linecap="round"/>
<linearGradient id="g5" gradientUnits="userSpaceOnUse" x1="1240" y1="0" x2="1380" y2="0"><stop offset="0" stop-color="#686868"/><stop offset="1" stop-color="#4a4a4a"/></linearGradient>
<path d="M279.0,1593.7 284.8,1592.1 290.6,1590.6 296.5,1589.4 302.3,1588.3 308.2,1587.4 314.2,1586.5 320.1,1585.7 326.1,1585.0 332.0,1584.3 338.0,1583.6 344.0,1583.0 349.9,1582.5 355.9,1582.0 361.9,1581.5 367.9,1581.2 373.9,1580.8 379.8,1580.5 385.8,1580.2 391.8,1579.9 397.8,1579.6 403.8,1579.3 409.8,1579.0 415.8,1578.7 421.8,1578.4 427.8,1578.1 433.8,1577.8 439.8,1577.5 445.8,1577.1 451.8,1576.8 457.7,1576.5 463.7,1576.2 469.7,1575.9 475.7,1575.6 481.7,1575.3 487.7,1575.0 493.7,1574.8 499.7,1574.5 505.7,1574.2 511.7,1574.0 517.7,1573.7 523.7,1573.4 529.7,1573.1 535.7,1572.8 541.6,1572.5 547.6,1572.2 553.6,1571.9 559.6,1571.5 565.6,1571.1 571.6,1570.8 577.6,1570.4 583.6,1570.0 589.6,1569.7 595.5,1569.3 601.5,1568.9 607.5,1568.5 613.5,1568.1 619.5,1567.7 625.5,1567.4 631.5,1567.0 637.5,1566.6 643.5,1566.3 649.4,1566.0 655.4,1565.6 661.4,1565.3 667.4,1565.0 673.4,1564.7 679.4,1564.4 685.4,1564.1 691.4,1563.8 697.4,1563.6 703.4,1563.2 709.4,1562.9 715.3,1562.5 721.3,1562.0 727.3,1561.5 733.3,1560.9 739.2,1560.3 745.2,1559.7 751.2,1559.1 757.1,1558.5 763.1,1557.9 769.1,1557.4 775.1,1556.9 781.0,1556.4 787.0,1555.9 793.0,1555.4 799.0,1555.0 805.0,1554.5 811.0,1554.0 816.9,1553.6 822.9,1553.1 828.9,1552.6 834.9,1552.2 840.9,1551.7 846.8,1551.3 852.8,1550.8 858.8,1550.3 864.8,1549.9 870.8,1549.4 876.8,1549.0 882.7,1548.5 888.7,1548.1 894.7,1547.6 900.7,1547.2 906.7,1546.7 912.7,1546.3 918.6,1545.8 924.6,1545.3 930.6,1544.9 936.6,1544.4 942.6,1543.9 948.5,1543.5 954.5,1543.0 960.5,1542.5 966.5,1542.1 972.5,1541.6 978.5,1541.1 984.4,1540.7 990.4,1540.2 996.4,1539.7 1002.4,1539.2 1008.4,1538.7 1014.3,1538.2 1020.3,1537.7 1026.3,1537.2 1032.3,1536.7 1038.3,1536.2 1044.2,1535.7 1050.2,1535.1 1056.2,1534.6 1062.2,1534.0 1068.1,1533.4 1074.1,1532.8 1080.0,1532.1 1086.0,1531.4 1092.0,1530.7 1097.9,1530.0 1103.9,1529.2 1109.8,1528.5 1115.8,1527.7 1121.7,1526.9 1127.7,1526.0 1133.6,1525.2 1139.5,1524.3 1145.5,1523.4 1151.4,1522.4 1157.3,1521.4 1163.2,1520.4 1169.1,1519.3 1175.0,1518.2 1180.9,1517.1 1186.8,1515.9 1192.7,1514.8 1198.6,1513.7 1204.5,1512.7 1210.4,1511.6 1216.3,1510.6 1222.2,1509.5 1228.1,1508.4 1233.9,1507.2 1239.8,1505.8 1245.5,1504.3 1251.3,1502.6 1257.0,1500.9 1262.7,1499.0 1268.4,1497.1 1274.0,1495.3 1279.7,1493.5 1285.4,1491.7 1291.1,1489.8 1296.7,1487.8 1302.2,1485.5 1307.6,1483.0 1312.8,1480.3 1318.0,1477.2 1323.0,1474.0 1327.8,1470.5 1332.4,1466.8 1336.8,1462.9 1341.1,1458.7 1345.1,1454.4 1348.9,1449.8 1352.6,1445.2 1356.2,1440.4 1359.7,1435.6 1363.0,1430.6 1366.1,1425.5 1369.0,1420.3 1371.7,1415.0 1374.3,1409.6 1376.8,1404.1 1379.1,1398.6 1381.3,1393.1 1383.3,1387.4 1385.1,1381.7 1386.9,1376.0 1388.5,1370.2 1390.0,1364.4 1391.4,1358.6 1392.7,1352.7 1393.9,1346.9 1395.1,1341.0 1396.2,1335.1 1397.3,1329.2 1398.3,1323.3 1399.3,1317.4 1400.3,1311.4 1401.2,1305.5 1402.1,1299.6 1403.0,1293.7 1403.9,1287.7 1404.8,1281.8 1405.6,1275.8 1406.4,1269.9 1407.2,1264.0 1408.0,1258.0 1408.7,1252.0 1409.3,1246.1 1409.9,1240.1 1410.4,1234.1 1411.0,1228.2 1411.5,1222.2 1412.0,1216.2 1412.5,1210.2 1413.0,1204.3 1413.5,1198.3 1414.0,1192.3 1414.5,1186.3 1415.0,1180.3 1415.5,1174.4 1416.0,1168.4 1416.5,1162.4 1417.0,1156.4 1417.5,1150.4 1418.0,1144.5 1418.5,1138.5 1419.0,1132.5 1419.5,1126.5 1419.9,1120.5 1420.4,1114.6 1420.9,1108.6 1421.4,1102.6 1421.9,1096.6 1422.4,1090.7 1422.9,1084.7 1423.5,1078.8 1424.0,1073.0 1424.6,1067.3 1425.4,1061.8 1426.0,1058.0" fill="none" stroke="url(#g5)" stroke-width="6" stroke-linejoin="round" stroke-linecap="round"/>
<path d="M1288.6,1491.0 1294.4,1489.5 1300.0,1487.3 1305.3,1484.7 1310.5,1481.8 1315.7,1478.9 1320.9,1475.8 1326.0,1472.8 1331.1,1469.7 1336.2,1466.6 1341.2,1463.4 1346.0,1460.1 1350.7,1456.6 1355.2,1452.7 1359.3,1448.6 1363.3,1444.2 1367.0,1439.5 1370.5,1434.7 1373.8,1429.8 1377.0,1424.7 1380.0,1419.5 1382.8,1414.3 1385.4,1408.9 1387.8,1403.5 1390.0,1397.9 1392.0,1392.3 1393.9,1386.6 1395.7,1380.9 1397.3,1375.1 1399.0,1369.3 1400.5,1363.5 1402.0,1357.7 1403.4,1351.9 1404.7,1346.1 1406.0,1340.2 1407.2,1334.3 1408.4,1328.4 1409.4,1322.5 1410.5,1316.6 1411.4,1310.7 1412.3,1304.8 1413.2,1298.8 1414.0,1292.9 1414.7,1287.0 1415.4,1281.0 1415.9,1275.0 1416.5,1269.1 1417.0,1263.1 1417.5,1257.1 1418.0,1251.1 1418.5,1245.1 1419.0,1239.2 1419.4,1233.2 1419.9,1227.2 1420.3,1221.2 1420.7,1215.2 1421.1,1209.2 1421.4,1203.2 1421.8,1197.3 1422.1,1191.3 1422.5,1185.3 1423.0,1179.3 1423.5,1173.3 1424.1,1167.4 1424.7,1161.4 1425.3,1155.5 1425.8,1149.5 1426.2,1143.5 1426.4,1137.6 1426.6,1131.6 1426.7,1125.6 1426.7,1119.6 1426.7,1113.6 1426.7,1107.6 1426.7,1101.6 1426.7,1095.6 1426.6,1089.6 1426.6,1083.7 1426.5,1077.8 1426.4,1072.0 1426.3,1066.3 1426.1,1061.0 1426.0,1058.0" fill="none" stroke="url(#g5)" stroke-width="6" stroke-linejoin="round" stroke-linecap="round"/>
<linearGradient id="g6" gradientUnits="userSpaceOnUse" x1="1240" y1="0" x2="1380" y2="0"><stop offset="0" stop-color="#8c8c8c"/><stop offset="1" stop-color="#666666"/></linearGradient>
<path d="M285.0,1864.5 290.7,1862.6 296.5,1861.2 302.4,1860.5 308.3,1859.9 314.2,1859.5 320.2,1859.2 326.2,1859.0 332.2,1858.8 338.2,1858.6 344.2,1858.5 350.2,1858.3 356.2,1858.2 362.2,1858.0 368.2,1857.8 374.2,1857.5 380.1,1857.2 386.1,1856.9 392.1,1856.6 398.1,1856.3 404.1,1856.0 410.1,1855.7 416.1,1855.4 422.1,1855.1 428.1,1854.9 434.1,1854.6 440.1,1854.4 446.1,1854.2 452.1,1854.0 458.1,1853.8 464.1,1853.7 470.1,1853.5 476.1,1853.3 482.1,1853.1 488.1,1852.9 494.1,1852.7 500.1,1852.5 506.0,1852.3 512.0,1852.2 518.0,1852.0 524.0,1851.8 530.0,1851.6 536.0,1851.4 542.0,1851.2 548.0,1851.0 554.0,1850.8 560.0,1850.6 566.0,1850.3 572.0,1850.1 578.0,1849.9 584.0,1849.7 590.0,1849.5 596.0,1849.3 602.0,1849.1 608.0,1848.9 614.0,1848.7 620.0,1848.5 626.0,1848.4 632.0,1848.2 638.0,1848.0 644.0,1847.8 650.0,1847.7 656.0,1847.5 662.0,1847.3 668.0,1847.1 674.0,1847.0 680.0,1846.8 686.0,1846.6 692.0,1846.5 698.0,1846.3 703.9,1846.1 709.9,1845.9 715.9,1845.8 721.9,1845.6 727.9,1845.4 733.9,1845.1 739.9,1844.9 745.9,1844.7 751.9,1844.4 757.9,1844.2 763.9,1844.0 769.9,1843.7 775.9,1843.5 781.9,1843.2 787.9,1843.0 793.9,1842.8 799.9,1842.6 805.9,1842.4 811.9,1842.2 817.9,1842.0 823.9,1841.8 829.9,1841.6 835.9,1841.4 841.9,1841.3 847.9,1841.1 853.9,1840.9 859.9,1840.7 865.8,1840.5 871.8,1840.3 877.8,1840.1 883.8,1839.8 889.8,1839.6 895.8,1839.3 901.8,1838.9 907.8,1838.6 913.8,1838.3 919.8,1837.9 925.8,1837.6 931.8,1837.2 937.8,1836.9 943.7,1836.5 949.7,1836.2 955.7,1835.8 961.7,1835.5 967.7,1835.1 973.7,1834.8 979.7,1834.4 985.7,1834.0 991.7,1833.6 997.6,1833.2 1003.6,1832.8 1009.6,1832.4 1015.6,1832.0 1021.6,1831.5 1027.6,1831.1 1033.5,1830.7 1039.5,1830.2 1045.5,1829.8 1051.5,1829.4 1057.5,1828.9 1063.5,1828.4 1069.4,1828.0 1075.4,1827.5 1081.4,1826.9 1087.4,1826.4 1093.3,1825.8 1099.3,1825.3 1105.3,1824.7 1111.3,1824.1 1117.2,1823.5 1123.2,1822.9 1129.2,1822.3 1135.1,1821.6 1141.1,1820.8 1147.0,1820.0 1153.0,1819.2 1158.9,1818.3 1164.8,1817.4 1170.8,1816.5 1176.7,1815.6 1182.6,1814.6 1188.5,1813.7 1194.5,1812.7 1200.4,1811.7 1206.2,1810.6 1212.1,1809.4 1218.0,1808.1 1223.8,1806.6 1229.5,1805.0 1235.3,1803.3 1241.0,1801.5 1246.7,1799.6 1252.3,1797.6 1258.0,1795.6 1263.6,1793.5 1269.1,1791.3 1274.7,1789.1 1280.1,1786.6 1285.5,1784.1 1290.8,1781.3 1296.1,1778.5 1301.3,1775.5 1306.4,1772.4 1311.3,1769.1 1316.2,1765.6 1320.9,1762.0 1325.4,1758.1 1329.7,1754.0 1333.8,1749.7 1337.7,1745.2 1341.4,1740.5 1344.8,1735.7 1348.2,1730.7 1351.4,1725.7 1354.5,1720.5 1357.5,1715.4 1360.3,1710.1 1363.0,1704.8 1365.6,1699.4 1368.0,1693.9 1370.2,1688.3 1372.2,1682.7 1374.0,1677.0 1375.8,1671.3 1377.4,1665.5 1379.0,1659.7 1380.5,1653.9 1382.0,1648.1 1383.4,1642.3 1384.7,1636.5 1386.0,1630.6 1387.1,1624.7 1388.2,1618.8 1389.3,1612.9 1390.3,1607.0 1391.2,1601.1 1392.1,1595.1 1393.0,1589.2 1393.9,1583.3 1394.7,1577.3 1395.5,1571.4 1396.3,1565.4 1397.0,1559.5 1397.7,1553.5 1398.4,1547.6 1399.1,1541.6 1399.7,1535.6 1400.4,1529.7 1401.0,1523.7 1401.6,1517.7 1402.3,1511.8 1402.9,1505.8 1403.5,1499.8 1404.1,1493.9 1404.7,1487.9 1405.3,1481.9 1405.9,1475.9 1406.5,1470.0 1407.1,1464.0 1407.7,1458.0 1408.3,1452.1 1409.0,1446.1 1409.7,1440.1 1410.4,1434.2 1411.1,1428.2 1411.9,1422.3 1412.7,1416.3 1413.5,1410.4 1414.3,1404.5 1415.2,1398.5 1416.0,1392.6 1416.9,1386.6 1417.9,1380.7 1418.9,1374.8 1420.1,1369.0 1421.4,1363.2 1422.8,1357.5 1424.5,1351.8 1426.4,1346.3 1428.5,1341.1 1431.0,1337.0" fill="none" stroke="url(#g6)" stroke-width="6" stroke-linejoin="round" stroke-linecap="round"/>
<path d="M1176.6,1815.6 1182.5,1814.7 1188.5,1813.7 1194.4,1812.8 1200.3,1811.8 1206.2,1810.6 1212.0,1809.4 1217.9,1808.1 1223.7,1806.6 1229.5,1805.0 1235.2,1803.3 1240.9,1801.5 1246.6,1799.6 1252.2,1797.7 1257.9,1795.8 1263.6,1794.1 1269.3,1792.5 1274.9,1791.2 1280.6,1790.0 1286.2,1788.8 1291.7,1787.5 1297.1,1785.8 1302.4,1783.8 1307.6,1781.3 1312.7,1778.5 1317.8,1775.5 1322.9,1772.4 1328.0,1769.2 1333.0,1765.9 1337.9,1762.5 1342.7,1759.0 1347.3,1755.2 1351.6,1751.2 1355.7,1746.9 1359.6,1742.4 1363.1,1737.7 1366.4,1732.7 1369.4,1727.6 1372.3,1722.4 1375.1,1717.1 1377.8,1711.7 1380.4,1706.3 1383.0,1700.9 1385.5,1695.5 1387.9,1690.0 1390.1,1684.4 1392.2,1678.8 1394.0,1673.2 1395.7,1667.4 1397.2,1661.6 1398.6,1655.8 1399.9,1650.0 1401.1,1644.1 1402.2,1638.2 1403.3,1632.3 1404.3,1626.4 1405.4,1620.5 1406.3,1614.6 1407.3,1608.6 1408.1,1602.7 1408.9,1596.7 1409.7,1590.8 1410.3,1584.8 1411.0,1578.9 1411.6,1572.9 1412.1,1566.9 1412.7,1561.0 1413.3,1555.0 1413.9,1549.0 1414.5,1543.0 1415.1,1537.1 1415.7,1531.1 1416.3,1525.1 1416.9,1519.2 1417.5,1513.2 1418.2,1507.2 1418.8,1501.3 1419.3,1495.3 1419.8,1489.3 1420.2,1483.3 1420.4,1477.4 1420.6,1471.4 1420.7,1465.4 1420.8,1459.4 1420.8,1453.4 1420.8,1447.4 1420.8,1441.4 1420.8,1435.4 1420.8,1429.4 1420.8,1423.4 1420.8,1417.4 1420.9,1411.4 1421.0,1405.4 1421.3,1399.4 1421.7,1393.5 1422.4,1387.5 1423.2,1381.6 1424.2,1375.7 1425.3,1369.9 1426.5,1364.0 1427.7,1358.2 1429.0,1352.5 1430.2,1346.8 1431.4,1341.3 1432.0,1337.0" fill="none" stroke="url(#g6)" stroke-width="6" stroke-linejoin="round" stroke-linecap="round"/>
<linearGradient id="g7" gradientUnits="userSpaceOnUse" x1="1240" y1="0" x2="1380" y2="0"><stop offset="0" stop-color="#ffaaee"/><stop offset="1" stop-color="#ff5adc"/></linearGradient>
<path d="M283.6,2199.7 289.3,2197.7 295.0,2196.1 300.8,2194.9 306.7,2194.0 312.7,2193.3 318.6,2192.6 324.6,2192.0 330.5,2191.4 336.5,2190.9 342.5,2190.4 348.5,2189.9 354.4,2189.4 360.4,2188.9 366.4,2188.4 372.4,2187.9 378.4,2187.5 384.3,2187.0 390.3,2186.6 396.3,2186.3 402.3,2186.0 408.3,2185.7 414.3,2185.4 420.3,2185.2 426.3,2184.9 432.3,2184.7 438.3,2184.5 444.3,2184.2 450.3,2184.0 456.3,2183.7 462.3,2183.5 468.3,2183.3 474.2,2183.0 480.2,2182.8 486.2,2182.6 492.2,2182.3 498.2,2182.1 504.2,2181.8 510.2,2181.6 516.2,2181.4 522.2,2181.1 528.2,2180.9 534.2,2180.6 540.2,2180.4 546.2,2180.2 552.2,2179.9 558.2,2179.7 564.2,2179.4 570.2,2179.2 576.2,2179.0 582.2,2178.7 588.2,2178.5 594.2,2178.3 600.2,2178.1 606.1,2177.9 612.1,2177.7 618.1,2177.5 624.1,2177.3 630.1,2177.1 636.1,2176.9 642.1,2176.8 648.1,2176.6 654.1,2176.4 660.1,2176.2 666.1,2176.0 672.1,2175.8 678.1,2175.6 684.1,2175.4 690.1,2175.2 696.1,2175.0 702.1,2174.9 708.1,2174.7 714.1,2174.5 720.1,2174.3 726.1,2174.1 732.1,2173.9 738.1,2173.7 744.1,2173.5 750.1,2173.3 756.1,2173.2 762.1,2173.0 768.1,2172.8 774.1,2172.6 780.1,2172.3 786.1,2172.1 792.1,2171.9 798.0,2171.6 804.0,2171.4 810.0,2171.1 816.0,2170.9 822.0,2170.6 828.0,2170.4 834.0,2170.1 840.0,2169.9 846.0,2169.6 852.0,2169.4 858.0,2169.2 864.0,2168.9 870.0,2168.7 876.0,2168.4 882.0,2168.2 888.0,2167.9 894.0,2167.7 900.0,2167.4 906.0,2167.2 911.9,2166.9 917.9,2166.7 923.9,2166.4 929.9,2166.2 935.9,2166.0 941.9,2165.7 947.9,2165.5 953.9,2165.2 959.9,2165.0 965.9,2164.8 971.9,2164.5 977.9,2164.3 983.9,2164.0 989.9,2163.7 995.9,2163.5 1001.9,2163.1 1007.9,2162.8 1013.8,2162.4 1019.8,2162.1 1025.8,2161.7 1031.8,2161.3 1037.8,2160.9 1043.8,2160.5 1049.8,2160.1 1055.8,2159.7 1061.7,2159.3 1067.7,2158.8 1073.7,2158.4 1079.7,2157.9 1085.6,2157.3 1091.6,2156.6 1097.5,2155.9 1103.5,2155.2 1109.4,2154.5 1115.4,2154.0 1121.4,2153.4 1127.3,2153.0 1133.3,2152.6 1139.3,2152.2 1145.3,2151.8 1151.3,2151.4 1157.3,2150.9 1163.2,2150.4 1169.2,2149.9 1175.2,2149.3 1181.2,2148.7 1187.1,2148.1 1193.1,2147.5 1199.1,2146.8 1205.0,2146.2 1211.0,2145.5 1216.9,2144.7 1222.9,2143.9 1228.8,2143.1 1234.8,2142.2 1240.7,2141.3 1246.6,2140.4 1252.5,2139.4 1258.4,2138.3 1264.3,2137.2 1270.2,2136.0 1276.1,2134.8 1281.9,2133.5 1287.8,2132.2 1293.6,2130.7 1299.4,2129.2 1305.1,2127.5 1310.8,2125.6 1316.4,2123.6 1321.9,2121.3 1327.3,2118.7 1332.5,2115.9 1337.6,2112.9 1342.5,2109.6 1347.1,2105.9 1351.4,2101.9 1355.4,2097.6 1359.0,2093.0 1362.3,2088.1 1365.2,2083.0 1367.8,2077.7 1370.1,2072.2 1372.2,2066.6 1374.1,2060.9 1375.8,2055.2 1377.4,2049.4 1378.8,2043.6 1380.1,2037.7 1381.3,2031.9 1382.4,2026.0 1383.4,2020.1 1384.3,2014.1 1385.1,2008.2 1385.9,2002.3 1386.7,1996.3 1387.4,1990.4 1388.0,1984.4 1388.7,1978.4 1389.3,1972.5 1389.9,1966.5 1390.5,1960.5 1391.1,1954.5 1391.6,1948.6 1392.1,1942.6 1392.6,1936.6 1393.0,1930.6 1393.5,1924.7 1394.0,1918.7 1394.4,1912.7 1394.9,1906.7 1395.4,1900.7 1395.8,1894.7 1396.2,1888.8 1396.6,1882.8 1397.0,1876.8 1397.4,1870.8 1397.7,1864.8 1398.0,1858.8 1398.3,1852.8 1398.6,1846.8 1398.9,1840.8 1399.2,1834.8 1399.5,1828.8 1399.8,1822.9 1400.1,1816.9 1400.3,1810.9 1400.6,1804.9 1400.9,1798.9 1401.2,1792.9 1401.5,1786.9 1401.8,1780.9 1402.1,1774.9 1402.5,1768.9 1402.8,1762.9 1403.2,1756.9 1403.6,1751.0 1404.1,1745.0 1404.6,1739.0 1405.0,1733.0 1405.5,1727.0 1406.0,1721.1 1406.5,1715.1 1407.1,1709.1 1407.6,1703.1 1408.2,1697.2 1408.8,1691.2 1409.5,1685.3 1410.3,1679.3 1411.2,1673.4 1412.2,1667.5 1413.3,1661.6 1414.4,1655.7 1415.5,1649.8 1416.7,1643.9 1418.0,1638.0" fill="none" stroke="url(#g7)" stroke-width="6" stroke-linejoin="round" stroke-linecap="round"/>
<path d="M283.6,2199.7 289.3,2197.7 295.0,2196.1 300.9,2195.2 306.8,2194.6 312.7,2194.1 318.7,2193.7 324.6,2193.4 330.6,2193.2 336.6,2193.0 342.6,2192.9 348.6,2192.7 354.6,2192.5 360.6,2192.4 366.6,2192.2 372.6,2192.1 378.6,2191.9 384.6,2191.7 390.6,2191.5 396.6,2191.3 402.6,2191.1 408.6,2190.8 414.6,2190.6 420.6,2190.4 426.6,2190.1 432.6,2189.9 438.6,2189.7 444.6,2189.4 450.6,2189.2 456.6,2188.9 462.5,2188.7 468.5,2188.5 474.5,2188.2 480.5,2188.0 486.5,2187.7 492.5,2187.5 498.5,2187.3 504.5,2187.0 510.5,2186.8 516.5,2186.5 522.5,2186.3 528.5,2186.1 534.5,2185.8 540.5,2185.6 546.5,2185.3 552.5,2185.1 558.5,2184.9 564.5,2184.6 570.5,2184.4 576.5,2184.2 582.5,2183.9 588.4,2183.7 594.4,2183.5 600.4,2183.3 606.4,2183.1 612.4,2182.9 618.4,2182.7 624.4,2182.5 630.4,2182.3 636.4,2182.1 642.4,2181.9 648.4,2181.8 654.4,2181.6 660.4,2181.4 666.4,2181.2 672.4,2181.0 678.4,2180.8 684.4,2180.6 690.4,2180.4 696.4,2180.2 702.4,2180.1 708.4,2179.9 714.4,2179.7 720.4,2179.5 726.4,2179.3 732.4,2179.1 738.4,2178.9 744.4,2178.7 750.4,2178.5 756.4,2178.3 762.4,2178.1 768.4,2177.9 774.4,2177.7 780.3,2177.5 786.3,2177.3 792.3,2177.1 798.3,2176.8 804.3,2176.6 810.3,2176.3 816.3,2176.1 822.3,2175.8 828.3,2175.6 834.3,2175.3 840.3,2175.1 846.3,2174.8 852.3,2174.6 858.3,2174.3 864.3,2174.1 870.3,2173.8 876.3,2173.6 882.3,2173.3 888.3,2173.1 894.3,2172.8 900.2,2172.6 906.2,2172.4 912.2,2172.1 918.2,2171.9 924.2,2171.6 930.2,2171.4 936.2,2171.2 942.2,2170.9 948.2,2170.7 954.2,2170.4 960.2,2170.2 966.2,2170.0 972.2,2169.7 978.2,2169.5 984.2,2169.2 990.2,2168.9 996.2,2168.6 1002.2,2168.3 1008.1,2168.0 1014.1,2167.6 1020.1,2167.2 1026.1,2166.9 1032.1,2166.5 1038.1,2166.1 1044.1,2165.7 1050.1,2165.3 1056.0,2164.9 1062.0,2164.5 1068.0,2164.0 1074.0,2163.6 1080.0,2163.2 1086.0,2162.7 1091.9,2162.1 1097.9,2161.5 1103.9,2160.9 1109.8,2160.3 1115.8,2159.7 1121.8,2159.2 1127.7,2158.7 1133.7,2158.4 1139.7,2158.1 1145.7,2157.8 1151.7,2157.6 1157.7,2157.4 1163.7,2157.2 1169.7,2157.0 1175.7,2156.7 1181.7,2156.3 1187.6,2155.8 1193.6,2155.2 1199.5,2154.5 1205.5,2153.8 1211.4,2153.0 1217.4,2152.3 1223.3,2151.5 1229.3,2150.7 1235.2,2149.9 1241.2,2149.1 1247.1,2148.2 1253.0,2147.3 1259.0,2146.4 1264.9,2145.3 1270.7,2144.2 1276.6,2142.9 1282.4,2141.6 1288.3,2140.2 1294.1,2138.8 1299.9,2137.4 1305.8,2136.0 1311.6,2134.5 1317.3,2132.9 1323.1,2131.2 1328.7,2129.3 1334.3,2127.3 1339.9,2125.0 1345.3,2122.6 1350.6,2119.9 1355.7,2117.0 1360.7,2113.8 1365.5,2110.3 1370.0,2106.6 1374.3,2102.5 1378.4,2098.2 1382.1,2093.7 1385.5,2088.8 1388.5,2083.8 1391.2,2078.5 1393.5,2073.1 1395.6,2067.5 1397.4,2061.8 1399.1,2056.1 1400.6,2050.3 1401.9,2044.4 1403.2,2038.6 1404.3,2032.7 1405.5,2026.8 1406.5,2020.9 1407.5,2015.0 1408.4,2009.1 1409.2,2003.1 1409.9,1997.2 1410.5,1991.2 1411.1,1985.2 1411.7,1979.3 1412.2,1973.3 1412.8,1967.3 1413.3,1961.3 1413.8,1955.4 1414.3,1949.4 1414.8,1943.4 1415.2,1937.4 1415.6,1931.4 1416.0,1925.5 1416.4,1919.5 1416.8,1913.5 1417.2,1907.5 1417.6,1901.5 1418.0,1895.5 1418.3,1889.5 1418.7,1883.5 1419.1,1877.6 1419.5,1871.6 1419.8,1865.6 1420.0,1859.6 1420.2,1853.6 1420.3,1847.6 1420.3,1841.6 1420.4,1835.6 1420.4,1829.6 1420.4,1823.6 1420.4,1817.6 1420.4,1811.6 1420.4,1805.6 1420.4,1799.6 1420.4,1793.6 1420.4,1787.6 1420.4,1781.6 1420.4,1775.6 1420.4,1769.6 1420.4,1763.6 1420.4,1757.6 1420.4,1751.6 1420.4,1745.6 1420.4,1739.6 1420.4,1733.6 1420.4,1727.6 1420.4,1721.6 1420.4,1715.6 1420.4,1709.6 1420.4,1703.6 1420.4,1697.6 1420.4,1691.6 1420.4,1685.6 1420.4,1679.6 1420.4,1673.6 1420.4,1667.6 1420.3,1661.6 1420.2,1655.7 1420.0,1649.7 1419.7,1643.8 1418.3,1638.3" fill="none" stroke="url(#g7)" stroke-width="6" stroke-linejoin="round" stroke-linecap="round"/>
<linearGradient id="g8" gradientUnits="userSpaceOnUse" x1="1240" y1="0" x2="1380" y2="0"><stop offset="0" stop-color="#ff9aea"/><stop offset="1" stop-color="#ff50dc"/></linearGradient>
<path d="M283.6,2578.5 289.5,2577.6 295.5,2576.8 301.4,2576.3 307.4,2575.9 313.4,2575.5 319.4,2575.1 325.4,2574.8 331.4,2574.4 337.4,2574.1 343.4,2573.9 349.4,2573.6 355.3,2573.3 361.3,2573.0 367.3,2572.7 373.3,2572.4 379.3,2572.1 385.3,2571.8 391.3,2571.5 397.3,2571.2 403.3,2570.9 409.3,2570.6 415.3,2570.3 421.3,2570.0 427.3,2569.7 433.3,2569.5 439.2,2569.2 445.2,2568.9 451.2,2568.7 457.2,2568.5 463.2,2568.2 469.2,2568.0 475.2,2567.8 481.2,2567.6 487.2,2567.4 493.2,2567.2 499.2,2566.9 505.2,2566.7 511.2,2566.5 517.2,2566.3 523.2,2566.1 529.2,2565.9 535.2,2565.7 541.2,2565.4 547.2,2565.2 553.2,2565.0 559.2,2564.8 565.2,2564.6 571.2,2564.4 577.2,2564.1 583.1,2563.9 589.1,2563.7 595.1,2563.5 601.1,2563.3 607.1,2563.1 613.1,2562.9 619.1,2562.8 625.1,2562.6 631.1,2562.4 637.1,2562.3 643.1,2562.1 649.1,2561.9 655.1,2561.8 661.1,2561.6 667.1,2561.5 673.1,2561.3 679.1,2561.2 685.1,2561.0 691.1,2560.8 697.1,2560.7 703.1,2560.5 709.1,2560.4 715.1,2560.2 721.1,2560.1 727.1,2559.9 733.1,2559.7 739.1,2559.5 745.1,2559.3 751.1,2559.0 757.1,2558.7 763.1,2558.4 769.0,2558.1 775.0,2557.7 781.0,2557.3 787.0,2556.9 793.0,2556.6 799.0,2556.2 805.0,2555.8 811.0,2555.4 816.9,2555.0 822.9,2554.7 828.9,2554.3 834.9,2554.0 840.9,2553.6 846.9,2553.3 852.9,2552.9 858.9,2552.6 864.9,2552.3 870.9,2552.0 876.9,2551.7 882.8,2551.4 888.8,2551.1 894.8,2550.8 900.8,2550.4 906.8,2550.1 912.8,2549.8 918.8,2549.5 924.8,2549.2 930.8,2548.9 936.8,2548.6 942.8,2548.2 948.8,2547.9 954.7,2547.5 960.7,2547.2 966.7,2546.8 972.7,2546.4 978.7,2545.9 984.7,2545.5 990.7,2545.1 996.6,2544.7 1002.6,2544.3 1008.6,2543.9 1014.6,2543.5 1020.6,2543.0 1026.6,2542.6 1032.6,2542.2 1038.5,2541.7 1044.5,2541.3 1050.5,2540.8 1056.5,2540.3 1062.5,2539.8 1068.4,2539.3 1074.4,2538.8 1080.4,2538.3 1086.4,2537.8 1092.4,2537.3 1098.3,2536.7 1104.3,2536.1 1110.3,2535.5 1116.2,2534.8 1122.2,2534.1 1128.1,2533.4 1134.1,2532.6 1140.0,2531.9 1146.0,2531.0 1151.9,2530.2 1157.9,2529.3 1163.8,2528.4 1169.7,2527.5 1175.6,2526.5 1181.5,2525.5 1187.4,2524.4 1193.3,2523.2 1199.2,2521.9 1205.0,2520.5 1210.8,2519.1 1216.6,2517.6 1222.4,2516.1 1228.2,2514.5 1234.0,2512.8 1239.7,2511.0 1245.4,2509.2 1251.1,2507.3 1256.7,2505.2 1262.3,2503.1 1267.9,2500.9 1273.4,2498.6 1278.9,2496.2 1284.4,2493.8 1289.8,2491.4 1295.2,2488.8 1300.6,2486.1 1305.8,2483.3 1310.8,2480.2 1315.7,2476.8 1320.3,2473.2 1324.8,2469.3 1329.2,2465.2 1333.4,2460.9 1337.4,2456.5 1341.3,2452.0 1344.9,2447.3 1348.5,2442.5 1351.8,2437.5 1355.1,2432.5 1358.2,2427.4 1361.1,2422.2 1363.9,2416.9 1366.5,2411.5 1368.9,2406.0 1371.1,2400.5 1373.1,2394.9 1375.0,2389.2 1376.7,2383.4 1378.4,2377.7 1379.9,2371.9 1381.4,2366.1 1382.8,2360.2 1384.1,2354.4 1385.4,2348.5 1386.6,2342.7 1387.7,2336.8 1388.8,2330.9 1389.8,2325.0 1390.8,2319.0 1391.7,2313.1 1392.6,2307.2 1393.4,2301.2 1394.2,2295.3 1395.0,2289.4 1395.8,2283.4 1396.6,2277.5 1397.4,2271.5 1398.1,2265.5 1398.8,2259.6 1399.6,2253.6 1400.3,2247.7 1401.0,2241.7 1401.7,2235.8 1402.4,2229.8 1403.0,2223.8 1403.7,2217.9 1404.3,2211.9 1404.9,2205.9 1405.5,2200.0 1406.1,2194.0 1406.7,2188.0 1407.3,2182.1 1407.9,2176.1 1408.4,2170.1 1409.0,2164.1 1409.5,2158.2 1410.0,2152.2 1410.5,2146.2 1411.0,2140.2 1411.5,2134.2 1412.0,2128.3 1412.5,2122.3 1413.0,2116.3 1413.5,2110.3 1414.0,2104.3 1414.5,2098.4 1415.1,2092.4 1415.7,2086.4 1416.4,2080.5 1417.1,2074.5 1417.8,2068.6 1418.5,2062.6 1419.3,2056.7 1420.0,2050.7 1420.7,2044.9 1421.5,2039.0 1422.2,2033.3 1423.0,2027.7 1423.7,2022.6 1424.0,2020.0" fill="none" stroke="url(#g8)" stroke-width="6" stroke-linejoin="round" stroke-linecap="round"/>
<path d="M1111.0,2535.7 1116.9,2534.9 1122.9,2534.1 1128.8,2533.4 1134.8,2532.6 1140.7,2531.8 1146.7,2531.0 1152.6,2530.1 1158.6,2529.2 1164.5,2528.3 1170.4,2527.4 1176.3,2526.4 1182.2,2525.4 1188.1,2524.2 1194.0,2523.0 1199.8,2521.7 1205.7,2520.4 1211.5,2518.9 1217.3,2517.5 1223.1,2516.0 1228.9,2514.6 1234.6,2513.2 1240.3,2512.0 1246.0,2511.0 1251.6,2510.2 1257.3,2509.3 1262.9,2508.3 1268.5,2507.0 1274.1,2505.5 1279.8,2503.8 1285.4,2501.8 1290.9,2499.7 1296.4,2497.4 1301.9,2495.0 1307.3,2492.4 1312.7,2489.7 1317.9,2486.9 1323.0,2483.9 1328.0,2480.7 1332.8,2477.2 1337.4,2473.5 1341.9,2469.6 1346.3,2465.6 1350.6,2461.4 1354.7,2457.1 1358.7,2452.7 1362.5,2448.2 1366.2,2443.4 1369.6,2438.6 1372.8,2433.6 1375.8,2428.4 1378.6,2423.1 1381.2,2417.8 1383.6,2412.3 1385.8,2406.7 1387.8,2401.1 1389.6,2395.4 1391.3,2389.6 1392.9,2383.9 1394.5,2378.1 1395.9,2372.3 1397.3,2366.4 1398.7,2360.6 1400.0,2354.7 1401.2,2348.9 1402.4,2343.0 1403.4,2337.1 1404.5,2331.2 1405.5,2325.2 1406.4,2319.3 1407.3,2313.4 1408.1,2307.5 1408.9,2301.5 1409.7,2295.6 1410.4,2289.6 1411.0,2283.6 1411.7,2277.7 1412.3,2271.7 1412.9,2265.7 1413.5,2259.8 1414.0,2253.8 1414.5,2247.8 1415.0,2241.8 1415.5,2235.9 1415.9,2229.9 1416.3,2223.9 1416.7,2217.9 1417.1,2211.9 1417.5,2205.9 1417.9,2199.9 1418.3,2193.9 1418.7,2188.0 1419.1,2182.0 1419.4,2176.0 1419.8,2170.0 1420.2,2164.0 1420.6,2158.0 1421.0,2152.0 1421.3,2146.0 1421.7,2140.1 1422.1,2134.1 1422.5,2128.1 1422.8,2122.1 1423.2,2116.1 1423.6,2110.1 1423.9,2104.1 1424.3,2098.1 1424.7,2092.1 1425.0,2086.2 1425.4,2080.2 1425.7,2074.2 1426.0,2068.2 1426.2,2062.2 1426.4,2056.2 1426.5,2050.2 1426.5,2044.3 1426.5,2038.4 1426.5,2032.6 1426.4,2026.9 1426.3,2021.4 1426.0,2018.0" fill="none" stroke="url(#g8)" stroke-width="6" stroke-linejoin="round" stroke-linecap="round"/>
</g>
<g id="labels" font-family="'Liberation Serif', 'Times New Roman', serif" fill="#161616" stroke="#161616" stroke-width="1.3" paint-order="stroke">
<text x="276" y="594.5" font-size="72" textLength="248" lengthAdjust="spacingAndGlyphs">MgO-18</text>
<text x="276" y="809.6" font-size="72" textLength="405" lengthAdjust="spacingAndGlyphs">30Ce/MgO-18</text>
<text x="270.5" y="1054.8" font-size="72" textLength="247" lengthAdjust="spacingAndGlyphs">MgO-36</text>
<text x="275" y="1325.4" font-size="72" textLength="406" lengthAdjust="spacingAndGlyphs">30Ce/MgO-36</text>
<text x="279.5" y="1555.4" font-size="72" textLength="244" lengthAdjust="spacingAndGlyphs">MgO-48</text>
<text x="280.5" y="1829.6" font-size="72" textLength="405" lengthAdjust="spacingAndGlyphs">30Ce/MgO-48</text>
<text x="279.5" y="2166.1" font-size="72" textLength="265" lengthAdjust="spacingAndGlyphs">MgO-SG</text>
<text x="286.5" y="2537.8" font-size="72" textLength="426" lengthAdjust="spacingAndGlyphs">30Ce/MgO-SG</text>
<text x="533" y="2797" font-size="72" textLength="240" lengthAdjust="spacingAndGlyphs">Relative</text><text x="780.5" y="2797" font-size="72" textLength="238.5" lengthAdjust="spacingAndGlyphs">pressure</text><text x="1032" y="2797" font-size="72" textLength="112" lengthAdjust="spacingAndGlyphs">(p/p</text><text x="1147" y="2806" font-size="40" textLength="26" lengthAdjust="spacingAndGlyphs">0</text><text x="1172" y="2797" font-size="72" textLength="20" lengthAdjust="spacingAndGlyphs">)</text>
<g transform="translate(83,1989) rotate(-90)"><text x="0" y="0" font-size="78" textLength="236" lengthAdjust="spacingAndGlyphs">Quantity</text><text x="250" y="0" font-size="78" textLength="265" lengthAdjust="spacingAndGlyphs">absorbed</text><text x="524" y="0" font-size="78" textLength="108" lengthAdjust="spacingAndGlyphs">(cm</text><text x="633" y="-27" font-size="54" textLength="24" lengthAdjust="spacingAndGlyphs">3</text><text x="644" y="0" font-size="78" textLength="67" lengthAdjust="spacingAndGlyphs">/g</text><text x="725" y="0" font-size="78" textLength="141" lengthAdjust="spacingAndGlyphs">STP)</text></g>
</g>
<g id="ticklabels">
<text x="268" y="2683" text-anchor="middle" font-size="33" fill="#8c8c8c" font-weight="bold" font-family="'Liberation Sans', Arial, sans-serif" textLength="60" lengthAdjust="spacing">0.0</text>
<text x="499.5" y="2683" text-anchor="middle" font-size="33" fill="#8c8c8c" font-weight="bold" font-family="'Liberation Sans', Arial, sans-serif" textLength="60" lengthAdjust="spacing">0.2</text>
<text x="733.5" y="2683" text-anchor="middle" font-size="33" fill="#8c8c8c" font-weight="bold" font-family="'Liberation Sans', Arial, sans-serif" textLength="60" lengthAdjust="spacing">0.4</text>
<text x="965" y="2683" text-anchor="middle" font-size="33" fill="#8c8c8c" font-weight="bold" font-family="'Liberation Sans', Arial, sans-serif" textLength="60" lengthAdjust="spacing">0.6</text>
<text x="1199" y="2683" text-anchor="middle" font-size="33" fill="#8c8c8c" font-weight="bold" font-family="'Liberation Sans', Arial, sans-serif" textLength="60" lengthAdjust="spacing">0.8</text>
<text x="1431" y="2683" text-anchor="middle" font-size="33" fill="#8c8c8c" font-weight="bold" font-family="'Liberation Sans', Arial, sans-serif" textLength="60" lengthAdjust="spacing">1.0</text>
</g>
</svg>
</body></html>
